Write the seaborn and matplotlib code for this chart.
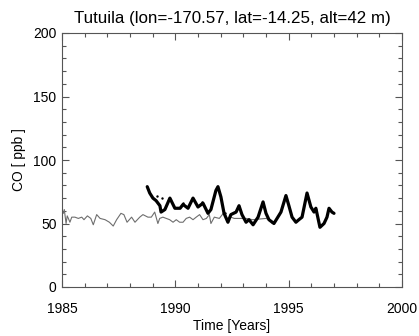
import numpy as np
import pandas as pd
import matplotlib
matplotlib.use("Agg")
import matplotlib.pyplot as plt
import seaborn as sns
from matplotlib.ticker import MultipleLocator

title = "Tutuila (lon=-170.57, lat=-14.25, alt=42 m)"

model_time = [1985.00, 1985.06, 1985.10, 1985.18, 1985.23, 1985.28, 1985.35, 1985.43, 1985.57,
              1985.72, 1985.87, 1985.97, 1986.12, 1986.27, 1986.38, 1986.53, 1986.68, 1986.90,
              1987.09, 1987.26, 1987.41, 1987.60, 1987.73, 1987.87, 1988.07, 1988.22, 1988.43,
              1988.57, 1988.79, 1988.94, 1989.09, 1989.23, 1989.31, 1989.45, 1989.60, 1989.75,
              1989.90, 1990.04, 1990.19, 1990.34, 1990.48, 1990.63, 1990.78, 1990.92, 1991.07,
              1991.22, 1991.37, 1991.50, 1991.57, 1991.72, 1991.94, 1992.16, 1992.31, 1992.45,
              1992.60, 1992.82, 1993.12, 1993.41, 1993.70, 1994.00, 1994.14]
model_co = [59, 58, 61, 50, 56, 54, 51, 55, 55,
            54, 55, 53, 56, 54, 49, 57, 54, 53,
            51, 48, 53, 58, 57, 51, 55, 51, 55,
            57, 55, 55, 59, 50, 54, 55, 54, 53,
            51, 53, 51, 51, 54, 55, 53, 55, 57,
            53, 54, 57, 50, 55, 54, 59, 53, 55,
            54, 54, 54, 53, 53.5, 54, 53]

obs_time = [1988.76, 1988.87, 1989.01, 1989.15, 1989.32, 1989.37, 1989.54, 1989.76, 1989.98,
            1990.21, 1990.34, 1990.56, 1990.78, 1991.00, 1991.22, 1991.44, 1991.57, 1991.79,
            1991.88, 1992.01, 1992.15, 1992.32, 1992.45, 1992.68, 1992.81, 1992.94, 1993.12,
            1993.25, 1993.43, 1993.65, 1993.87, 1994.00, 1994.13, 1994.35, 1994.66, 1994.88,
            1995.01, 1995.15, 1995.32, 1995.45, 1995.59, 1995.81, 1995.98, 1996.12, 1996.20,
            1996.38, 1996.56, 1996.69, 1996.78, 1996.91, 1997.00]
obs_co = [79, 74, 70, 68, 64, 59, 61, 70, 62,
          62, 65, 62, 70, 63, 66, 58, 61, 76,
          79, 71, 58, 51, 57, 59, 64, 57, 51,
          53, 49, 55, 67, 58, 53, 50, 59, 72,
          64, 55, 51, 53, 55, 74, 63, 59, 62,
          47, 50, 55, 62, 59, 58]

flask_time = [1989.18, 1989.40, 1990.32, 1991.19, 1992.19, 1994.25]
flask_co = [72, 70, 66, 67, 58, 51]

model_df = pd.DataFrame({"time": model_time, "co": model_co})
obs_df = pd.DataFrame({"time": obs_time, "co": obs_co})
flask_df = pd.DataFrame({"time": flask_time, "co": flask_co})

sns.set_style("ticks")
plt.rcParams['font.family'] = ['Liberation Sans', 'DejaVu Sans']
plt.rcParams['text.color'] = 'black'
plt.rcParams['axes.labelcolor'] = 'black'

fig = plt.figure(figsize=(4.19, 3.36), dpi=100)
ax = fig.add_axes([62/419, 1-287/336, 340/419, 254/336])

sns.lineplot(data=model_df, x="time", y="co", ax=ax, color="#6e6e6e", lw=0.8,
             estimator=None, sort=False)
sns.lineplot(data=obs_df, x="time", y="co", ax=ax, color="black", lw=2.3,
             estimator=None, sort=False)
sns.scatterplot(data=flask_df, x="time", y="co", ax=ax, color="black", s=3,
                marker="o", linewidth=0)

ax.set_xlim(1985, 2000)
ax.set_ylim(0, 200)
ax.xaxis.set_major_locator(MultipleLocator(5))
ax.xaxis.set_minor_locator(MultipleLocator(1))
ax.yaxis.set_major_locator(MultipleLocator(50))
ax.yaxis.set_minor_locator(MultipleLocator(10))
ax.tick_params(which="both", direction="in", top=True, right=True, colors="#555555",
               labelcolor="black", labelsize=10, width=0.8)
ax.tick_params(which="major", length=5)
ax.tick_params(which="minor", length=3)
ax.tick_params(axis="x", which="major", pad=11)
ax.tick_params(axis="y", which="major", pad=4)
for s in ax.spines.values():
    s.set_color("#555555")
    s.set_linewidth(0.8)

ax.set_xlabel("Time [Years]", fontsize=10, labelpad=2)
ax.set_ylabel("CO [ ppb ]", fontsize=10, labelpad=5)
ax.set_title(title, fontsize=12.2, pad=7)

fig.savefig("out.png", dpi=100)
